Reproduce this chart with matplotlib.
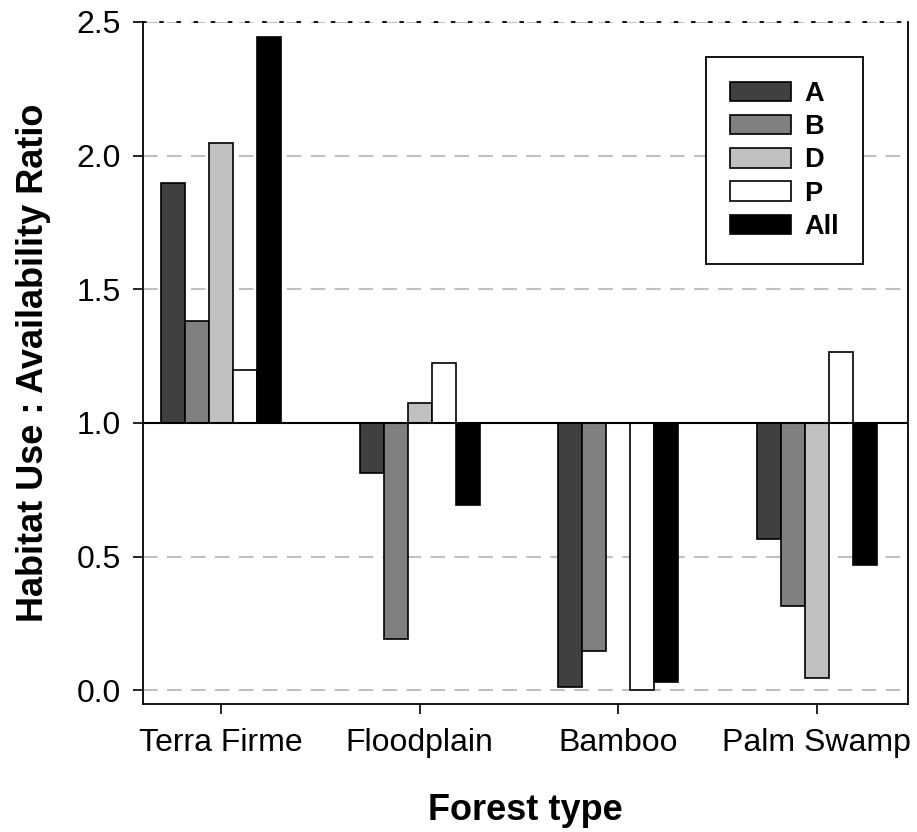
import numpy as np
import matplotlib
matplotlib.use("Agg")
import matplotlib.pyplot as plt

plt.rcParams['font.family'] = ['Liberation Sans', 'DejaVu Sans']

forest_types = ["Terra Firme", "Floodplain", "Bamboo", "Palm Swamp"]
groups = ["A", "B", "D", "P", "All"]
colors = ["#404040", "#808080", "#c0c0c0", "#ffffff", "#000000"]

# use:availability ratios per group, one value per forest type
ratio_A = [1.897, 0.813, 0.012, 0.567]
ratio_B = [1.381, 0.192, 0.147, 0.314]
ratio_D = [2.049, 1.073, np.nan, 0.047]
ratio_P = [1.196, 1.223, 0.000, 1.264]
ratio_All = [2.442, 0.692, 0.029, 0.468]
ratios = [ratio_A, ratio_B, ratio_D, ratio_P, ratio_All]

baseline = 1.0
y_ticks = [0.0, 0.5, 1.0, 1.5, 2.0, 2.5]

fig = plt.figure(figsize=(9.17, 8.32), dpi=100)
ax = fig.add_axes([0.156, 0.1538, 0.834, 0.8198])

x = np.arange(len(forest_types))
w = 0.1208
for i, (g, vals) in enumerate(zip(groups, ratios)):
    vals = np.asarray(vals, dtype=float)
    ax.bar(x + (i - 2) * w, vals - baseline, bottom=baseline, width=w,
           color=colors[i], edgecolor="black", linewidth=1.2, label=g, zorder=2)

# dashed reference lines, solid line at ratio = 1
for yv in y_ticks:
    if yv == baseline:
        continue
    ax.axhline(yv, color="#c0c0c0", lw=1.5, dashes=(7, 4.5), zorder=0)
ax.axhline(baseline, color="black", lw=1.5, zorder=3)

ax.set_xlim(-0.393, 3.458)
ax.set_ylim(-0.052, 2.5)
ax.set_yticks(y_ticks)
ax.set_yticklabels(["%.1f" % v for v in y_ticks])
ax.set_xticks(x)
ax.set_xticklabels(forest_types)
ax.tick_params(axis="both", direction="out", length=7, width=1.2, labelsize=23)
ax.tick_params(axis="x", pad=10)
ax.tick_params(axis="y", pad=9)

for s in ["left", "right", "bottom"]:
    ax.spines[s].set_linewidth(1.3)
ax.spines["top"].set_linestyle((0, (1.5, 8)))
ax.spines["top"].set_linewidth(1.3)

ax.set_ylabel("Habitat Use : Availability Ratio", fontsize=26, fontweight="bold")
ax.yaxis.set_label_coords(-0.121, 0.5)
ax.set_xlabel("Forest type", fontsize=26, fontweight="bold")
ax.xaxis.set_label_coords(0.5, -0.13)
ax.xaxis.label.set_va("top")

leg = ax.legend(loc="upper left", bbox_to_anchor=(0.736, 0.9487), fancybox=False,
                edgecolor="black", framealpha=1, borderpad=0.88, borderaxespad=0,
                handlelength=2.26, handleheight=0.74, handletextpad=0.5,
                labelspacing=0.27, prop={"weight": "bold", "size": 19.5})
leg.get_frame().set_linewidth(1.3)

fig.savefig("out.png", dpi=100)
